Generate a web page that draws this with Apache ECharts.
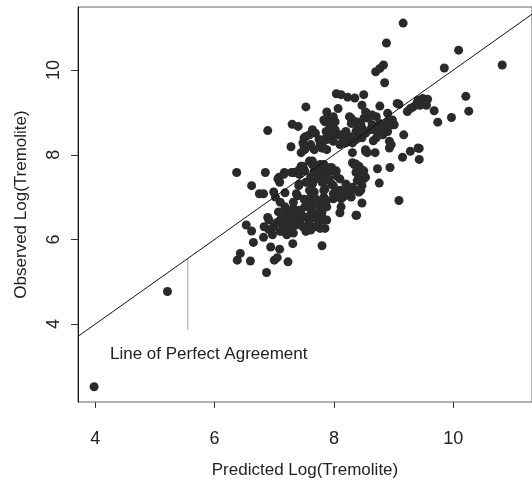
<!DOCTYPE html>
<html>
<head>
<meta charset="utf-8">
<script src="https://cdn.jsdelivr.net/npm/echarts@6/dist/echarts.min.js"></script>
<style>
  html, body { margin: 0; padding: 0; background: #fff; }
  #chart { width: 532px; height: 484px; }
</style>
</head>
<body>
<div id="chart"></div>
<script>
// axis ranges and ticks
const xRange = [3.71, 11.32]
const yRange = [2.16, 11.49]
const xTicks = [4, 6, 8, 10]
const yTicks = [4, 6, 8, 10]

const xTitle = 'Predicted Log(Tremolite)'
const yTitle = 'Observed Log(Tremolite)'
const lineLabel = 'Line of Perfect Agreement'

// pointer from the label up to the line
const pointerX = 5.55
const pointerBottom = 3.86

// [predicted, observed]
const points = [
  [3.98, 2.52], [5.21, 4.77],
  [6.37, 7.58], [6.85, 7.58], [6.89, 8.57], [7.30, 8.72], [7.40, 8.67], [7.28, 8.19], [7.53, 9.13],
  [9.16, 11.11], [8.88, 10.64], [8.83, 10.12], [8.77, 10.04], [8.70, 9.96], [8.85, 9.70],
  [10.09, 10.47], [9.85, 10.05], [10.82, 10.12], [10.21, 9.38], [10.26, 9.03], [9.97, 8.88], [9.74, 8.77], [9.68, 9.04],
  [9.41, 9.29], [9.49, 9.33], [9.57, 9.31], [9.55, 9.17], [9.44, 9.17],
  [9.43, 8.15], [9.43, 7.89], [9.28, 8.08], [9.15, 7.94], [9.17, 8.47], [9.09, 6.92],
  [8.04, 9.44], [8.12, 9.42], [8.23, 9.36], [8.35, 9.34], [8.50, 9.42],
  [8.07, 9.09], [8.47, 9.17], [8.77, 9.15], [9.09, 9.19], [9.23, 9.02], [9.33, 9.13], [9.06, 9.21], [9.28, 9.09], [9.39, 9.21],
  [6.62, 7.27], [6.75, 7.08], [6.82, 7.08], [6.99, 7.12], [7.02, 7.00], [7.10, 6.88], [7.18, 7.10],
  [7.06, 7.43], [7.09, 7.35], [7.17, 7.58], [7.34, 7.58], [7.42, 7.58], [7.45, 7.73], [7.49, 7.66],
  [7.39, 7.03], [7.32, 6.88], [7.41, 7.27],
  [6.53, 6.34], [6.62, 6.20], [6.65, 5.93], [6.43, 5.67], [6.38, 5.51], [6.60, 5.49], [6.87, 5.22],
  [7.00, 5.51], [7.05, 5.57], [7.23, 5.47], [6.94, 5.82], [7.09, 5.77], [6.89, 6.52], [6.82, 6.05],
  [7.31, 5.90], [7.80, 5.85],
  [8.10, 6.63], [8.38, 6.57], [8.47, 6.86], [8.76, 7.33], [8.73, 7.67], [8.94, 7.70],
  [6.91, 6.23], [6.99, 6.30], [7.05, 6.40], [7.10, 6.46], [7.16, 6.53], [7.24, 6.61], [7.29, 6.55], [7.34, 6.46],
  [7.40, 6.38], [7.48, 6.30], [7.53, 6.19], [7.61, 6.22], [7.69, 6.30], [7.75, 6.42], [7.80, 6.53], [7.85, 6.26], [7.88, 6.46],
  [7.10, 6.19], [7.21, 6.11], [7.32, 6.15], [7.07, 6.65], [7.18, 6.77], [7.34, 6.69], [7.45, 6.61], [7.51, 6.77],
  [7.56, 6.88], [7.61, 7.00], [7.67, 7.12], [7.59, 7.16], [7.64, 7.31], [7.69, 7.43], [7.75, 7.54], [7.67, 7.62],
  [7.80, 7.35], [7.85, 7.19], [7.91, 7.43], [7.96, 7.62], [8.04, 7.50], [7.99, 7.27], [8.07, 7.08], [8.15, 7.00],
  [8.20, 7.12], [8.29, 7.00], [8.31, 7.23], [8.39, 7.39], [8.37, 7.58], [8.34, 7.77], [8.42, 7.73], [8.50, 7.62],
  [8.53, 7.47], [8.45, 7.16], [8.12, 6.77], [7.88, 6.77], [7.77, 6.88], [7.83, 7.00], [7.99, 6.96],
  [7.59, 7.85], [7.51, 7.62], [7.61, 7.47], [7.53, 7.35], [7.77, 7.77], [7.88, 7.70],
  [6.91, 6.46], [6.83, 6.30], [6.97, 6.11], [7.29, 6.26],
  [7.16, 6.19], [7.24, 6.27], [7.37, 6.34], [7.53, 6.22], [7.77, 6.26], [7.83, 6.46], [7.67, 6.61], [7.56, 6.53],
  [7.45, 6.57], [7.18, 6.50], [7.21, 6.69], [7.32, 6.73], [7.42, 6.69], [7.64, 6.80], [7.77, 6.73], [7.37, 7.08], [7.42, 7.31],
  [7.96, 7.70], [8.04, 7.62], [7.88, 7.58], [7.85, 7.39], [7.96, 7.31], [8.10, 7.43], [8.20, 7.31], [8.26, 7.12],
  [8.10, 7.16], [7.99, 7.08], [7.83, 7.16], [7.88, 6.92], [7.80, 6.65],
  [8.04, 7.12], [8.12, 6.96], [8.20, 7.04], [8.42, 7.12], [8.37, 6.57],
  [8.31, 7.81], [8.45, 7.66], [8.45, 7.50], [8.50, 7.43], [8.47, 7.27], [8.39, 7.16],
  [7.50, 8.40], [7.59, 8.47], [7.64, 8.59], [7.69, 8.51], [7.75, 8.36], [7.61, 8.24], [7.50, 8.20], [7.45, 8.05],
  [7.67, 8.12], [7.80, 8.16], [7.88, 8.12], [7.83, 8.36], [7.94, 8.47], [8.02, 8.59], [8.07, 8.47], [8.15, 8.40],
  [8.20, 8.28], [8.31, 8.28], [8.26, 8.43], [8.37, 8.55], [8.47, 8.63], [8.42, 8.74], [8.50, 8.86], [8.55, 8.98], [8.64, 8.94],
  [7.88, 9.01], [8.26, 8.90], [8.29, 8.74], [8.37, 8.71], [8.45, 8.55],
  [8.58, 8.86], [8.64, 8.71], [8.69, 8.59], [8.77, 8.74], [8.85, 8.63], [8.90, 8.78], [8.98, 8.82], [9.01, 8.71],
  [8.90, 8.55], [8.82, 8.47], [8.71, 8.40], [8.66, 8.33],
  [8.96, 8.24], [8.93, 8.16], [8.53, 8.08], [8.69, 8.05], [8.31, 8.05], [8.37, 7.78],
  [7.08, 7.47], [7.29, 7.58], [7.40, 7.62], [7.64, 7.85], [7.72, 7.73], [7.83, 7.77], [7.94, 7.69], [8.90, 8.98],
  [7.53, 8.43], [7.48, 8.28], [7.51, 8.12], [7.59, 8.20], [7.77, 8.24], [7.88, 8.78], [7.87, 8.55],
  [7.16, 7.54], [7.32, 7.58], [7.42, 7.54], [7.48, 7.73], [7.64, 7.77], [7.72, 7.58], [7.77, 7.70], [7.88, 7.50],
  [7.85, 8.78], [7.94, 8.86], [8.02, 8.78], [7.94, 8.67], [8.12, 8.47], [8.20, 8.55], [8.29, 8.86], [8.37, 8.78],
  [8.45, 8.71], [8.42, 8.55], [8.53, 8.51], [8.47, 8.40], [8.37, 8.36], [8.18, 8.28], [8.10, 8.24], [7.99, 8.32],
  [7.88, 8.36], [7.80, 8.32], [7.83, 8.16],
  [8.53, 9.01], [8.71, 8.90], [8.61, 8.59], [8.77, 8.59], [8.93, 8.82], [8.98, 8.71],
  [8.93, 8.32], [8.53, 8.12], [8.56, 8.05], [9.41, 8.16],
  [7.83, 8.82], [7.94, 8.78], [7.99, 8.90],
  [7.26, 6.40], [7.44, 6.47], [7.58, 6.40], [7.70, 6.50], [7.36, 6.58], [7.14, 6.34], [7.62, 6.68], [7.70, 6.95], [7.50, 6.95]
]

const chart = echarts.init(document.getElementById('chart'))

const textFont = { fontFamily: 'Liberation Sans, Arial, sans-serif', color: '#222' }

chart.setOption({
  animation: false,
  grid: {
    left: 78,
    top: 7,
    right: -18,
    bottom: 76,
    show: true,
    borderColor: '#666',
    borderWidth: 1
  },
  xAxis: {
    type: 'value',
    min: xRange[0],
    max: xRange[1],
    name: xTitle,
    nameLocation: 'middle',
    nameGap: 60,
    nameTextStyle: { ...textFont, fontSize: 17 },
    axisLine: { show: false },
    splitLine: { show: false },
    axisTick: { show: true, length: 6, customValues: xTicks, lineStyle: { color: '#333' } },
    axisLabel: { ...textFont, fontSize: 18, margin: 28, customValues: xTicks }
  },
  yAxis: {
    type: 'value',
    min: yRange[0],
    max: yRange[1],
    name: yTitle,
    nameLocation: 'middle',
    nameGap: 48,
    nameRotate: 90,
    nameTextStyle: { ...textFont, fontSize: 17 },
    axisLine: { show: true, lineStyle: { color: '#111', width: 1 } },
    splitLine: { show: false },
    axisTick: { show: true, length: 7, customValues: yTicks, lineStyle: { color: '#333' } },
    axisLabel: { ...textFont, fontSize: 18, margin: 15, rotate: 90, customValues: yTicks }
  },
  graphic: [
    {
      type: 'text',
      left: 110,
      top: 346,
      style: { text: lineLabel, fill: '#222', font: '17px "Liberation Sans", Arial, sans-serif' }
    }
  ],
  series: [
    {
      type: 'line',
      data: [[xRange[0], xRange[0]], [xRange[1], xRange[1]]],
      symbol: 'none',
      lineStyle: { color: '#111', width: 1 },
      silent: true,
      z: 3
    },
    {
      type: 'line',
      data: [[pointerX, pointerX], [pointerX, pointerBottom]],
      symbol: 'none',
      lineStyle: { color: '#555', width: 1, type: [1, 1] },
      silent: true
    },
    {
      type: 'scatter',
      data: points,
      symbol: 'circle',
      symbolSize: 9,
      itemStyle: { color: '#2a2a2a', opacity: 1 },
      z: 2
    }
  ]
})
</script>
</body>
</html>
